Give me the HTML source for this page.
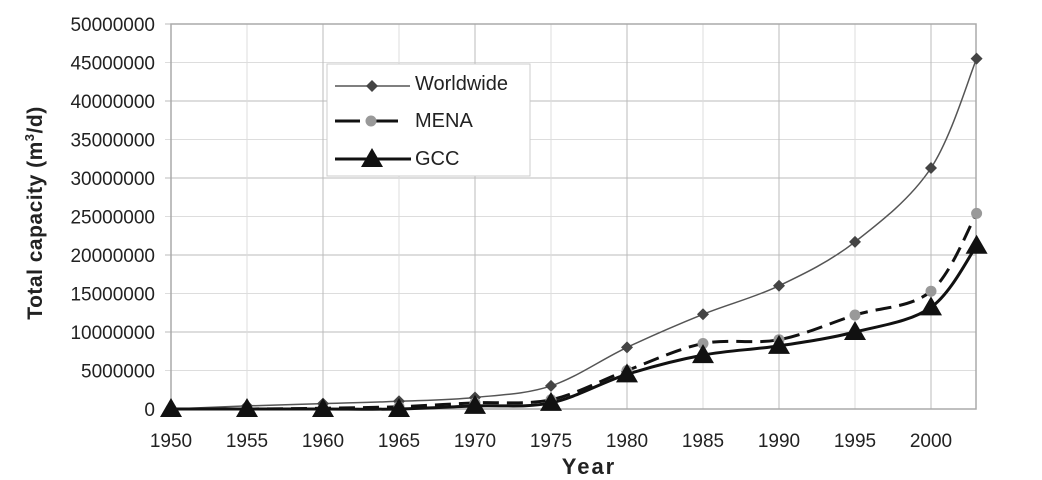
<!DOCTYPE html>
<html><head><meta charset="utf-8"><style>
body{margin:0;background:#fff;}
svg{display:block;font-family:"Liberation Sans",Arial,sans-serif;}
</style></head><body>
<svg id="s" width="1042" height="480" xmlns="http://www.w3.org/2000/svg"></svg>
<script>
const s=document.getElementById('s');
const X0=171,PX=15.2,Y0=409,PY=7.7;
const xs=[1950,1955,1960,1965,1970,1975,1980,1985,1990,1995,2000,2003];
const W=[0,0.4,0.7,1,1.5,3,8,12.3,16,21.7,31.3,45.5];
const M=[0,0,0.1,0.3,0.8,1.2,5,8.5,9,12.2,15.3,25.4];
const G=[0,0,0,0,0.4,0.8,4.5,7,8.2,10,13.2,21.2];
const fx=y=>X0+(y-1950)*PX, fy=v=>Y0-v*PY;
let h='';
for(let i=0;i<=10;i++){const y=fy(i*5);h+=`<line x1="165" x2="976" y1="${y}" y2="${y}" stroke="${i%2?'#ddd':'#bbb'}" stroke-width="1"/>`;
h+=`<text x="155" y="${y+7}" font-size="19" text-anchor="end" fill="#222">${i*5000000}</text>`;}
for(let i=0;i<=10;i++){const x=fx(1950+i*5);h+=`<line x1="${x}" x2="${x}" y1="24" y2="409" stroke="${i%2?'#ddd':'#bbb'}"/>`;
h+=`<text x="${x}" y="447" font-size="19" text-anchor="middle" fill="#222">${1950+i*5}</text>`;}
h+=`<rect x="171" y="24" width="805" height="385" fill="none" stroke="#aaa" stroke-width="1.5"/>`;
function path(d){const p=xs.map((y,i)=>[fx(y),fy(d[i])]);let r=`M${p[0]}`;
for(let i=0;i<p.length-1;i++){const a=p[i-1]||p[i],b=p[i],c=p[i+1],e=p[i+2]||c;
r+=`C${b[0]+(c[0]-a[0])/6},${b[1]+(c[1]-a[1])/6} ${c[0]-(e[0]-b[0])/6},${c[1]-(e[1]-b[1])/6} ${c[0]},${c[1]}`;}return r;}
h+=`<path d="${path(W)}" fill="none" stroke="#555" stroke-width="1.5"/>`;
h+=`<path d="${path(M)}" fill="none" stroke="#111" stroke-width="3" stroke-dasharray="16,8"/>`;
h+=`<path d="${path(G)}" fill="none" stroke="#111" stroke-width="3"/>`;
const dia=(x,y)=>`<path d="M${x},${y-6}L${x+6},${y}L${x},${y+6}L${x-6},${y}Z" fill="#444"/>`;
const cir=(x,y)=>`<circle cx="${x}" cy="${y}" r="5.5" fill="#999"/>`;
const tri=(x,y)=>`<path d="M${x},${y-11}L${x+11},${y+8}L${x-11},${y+8}Z" fill="#111"/>`;
xs.forEach((y,i)=>{h+=dia(fx(y),fy(W[i]));h+=cir(fx(y),fy(M[i]));h+=tri(fx(y),fy(G[i]));});
h+=`<rect x="327" y="64" width="203" height="112" fill="#fff" stroke="#ccc"/>`;
h+=`<line x1="335" x2="410" y1="86" y2="86" stroke="#555" stroke-width="1.5"/>`+dia(372,86);
h+=`<line x1="335" x2="400" y1="121" y2="121" stroke="#111" stroke-width="3" stroke-dasharray="25,13"/>`+cir(371,121);
h+=`<line x1="335" x2="411" y1="159" y2="159" stroke="#111" stroke-width="3"/>`+tri(372,159);
h+=`<text x="415" y="90" font-size="20" fill="#222">Worldwide</text>`;
h+=`<text x="415" y="127" font-size="20" fill="#222">MENA</text>`;
h+=`<text x="415" y="165" font-size="20" fill="#222">GCC</text>`;
h+=`<text transform="translate(42,213) rotate(-90)" font-size="21" font-weight="bold" text-anchor="middle" fill="#222" letter-spacing="0.5">Total capacity  (m<tspan font-size="13" dy="-8">3</tspan><tspan dy="8">/d)</tspan></text>`;
h+=`<text x="589" y="474" font-size="22" font-weight="bold" text-anchor="middle" fill="#222" letter-spacing="2">Year</text>`;
s.innerHTML=h;
</script>
</body></html>
